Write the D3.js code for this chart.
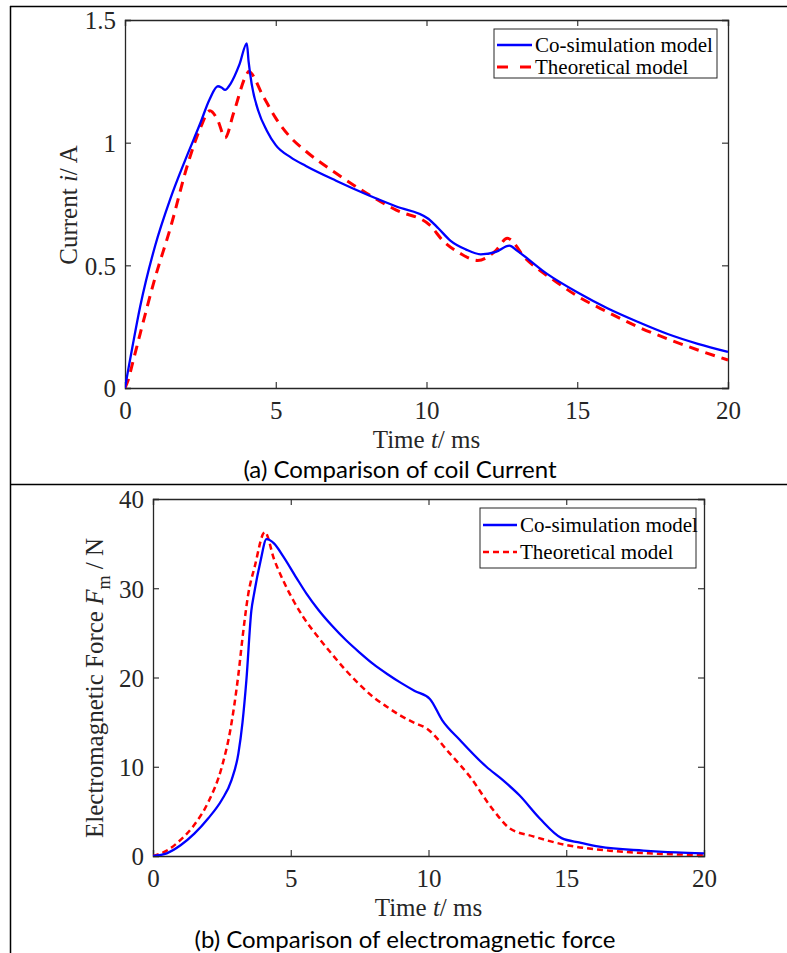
<!DOCTYPE html>
<html><head><meta charset="utf-8">
<script src="https://cdn.jsdelivr.net/npm/d3@7"></script>
<style>body{margin:0;background:#fff}svg{display:block}</style>
</head><body>
<script>
// ---- data ----
const currentTicksX = [0,5,10,15,20];
const currentTicksY = [0,0.5,1,1.5];
const forceTicksY = [0,10,20,30,40];
const seriesNames = ["Co-simulation model","Theoretical model"];

const curCoT = [0,0.1,0.25,0.5,1,1.5,2,2.5,2.8,3.08,3.2,3.32,3.5,3.8,4.04,4.1,4.2,4.42,4.7,5,5.5,6,7,8,9,10.06,10.4,10.8,11.3,11.8,12.3,12.75,13,14,15,16,17,18,19,20];
const curCoV = [0,0.07,0.17,0.33,0.58,0.77,0.93,1.08,1.175,1.23,1.225,1.215,1.24,1.32,1.405,1.33,1.24,1.13,1.05,0.99,0.94,0.905,0.845,0.79,0.74,0.69,0.65,0.6,0.565,0.545,0.555,0.58,0.56,0.465,0.39,0.325,0.27,0.22,0.18,0.147];
const curThT = [0,0.1,0.25,0.5,1,1.5,2.1,2.5,2.82,3.08,3.32,3.6,4.04,4.1,4.58,5,5.5,6,7,8,9,10.1,10.55,11.1,11.7,12.3,12.68,13.27,14.33,15,16,17,18,19,20];
const curThV = [0,0.03,0.1,0.22,0.45,0.65,0.92,1.06,1.13,1.09,1.02,1.12,1.28,1.29,1.19,1.1,1.02,0.965,0.875,0.795,0.725,0.665,0.6,0.55,0.52,0.56,0.61,0.53,0.43,0.375,0.31,0.25,0.2,0.155,0.114];

const frcCoT = [0,0.5,1,1.5,2,2.5,2.85,3.1,3.25,3.39,3.57,3.67,3.9,4.12,4.4,4.72,5.2,5.57,6,6.5,7,7.5,8,8.5,9,9.5,10.05,10.5,11.14,12.1,12.7,13.3,14.04,14.83,15.5,16.2,17.8,19,20];
const frcCoV = [0,0.3,1.2,2.5,4.2,6.3,8.5,11.5,15,19.7,27.5,29.4,33,35.5,35,33.6,31.2,29.4,27.6,25.8,24.2,22.8,21.5,20.4,19.4,18.5,17.6,15.2,13,10,8.5,6.8,4.2,2.0,1.5,1.04,0.6,0.4,0.3];
const frcThT = [0,0.5,1,1.5,2,2.5,2.8,3.09,3.27,3.45,3.69,4.06,4.4,4.72,5.1,5.45,6,6.5,7,7.5,8,8.5,9,9.5,9.93,10.77,11.5,12.35,12.95,13.8,15,16.58,18,20];
const frcThV = [0,0.6,1.8,3.5,6,10,14,20.1,25,29.2,32.4,36.3,33.2,30.9,28.6,26.8,24.5,22.6,20.8,19.2,17.8,16.7,15.7,14.9,14.3,11.5,8.9,5.15,3.1,2.2,1.23,0.6,0.3,0.1];

const W = 787, H = 953;
const axisColor = "#262626";
const serif = "'Liberation Serif','Times New Roman',serif";
const sans = "Lato,'Open Sans',sans-serif";
const fs = 25;

const svg = d3.select("body").append("svg").attr("width",W).attr("height",H);

// outer frame lines
svg.append("line").attr("x1",10).attr("x2",W).attr("y1",6.5).attr("y2",6.5).attr("stroke","#000").attr("stroke-width",1.5);
svg.append("line").attr("x1",10.5).attr("x2",10.5).attr("y1",6).attr("y2",H).attr("stroke","#000").attr("stroke-width",1.5);
svg.append("line").attr("x1",10).attr("x2",W).attr("y1",484.5).attr("y2",484.5).attr("stroke","#000").attr("stroke-width",1.5);

function panel(o){
  const g = svg.append("g");
  const x = d3.scaleLinear().domain([0,20]).range([o.left,o.right]);
  const y = d3.scaleLinear().domain(o.ydom).range([o.bottom,o.top]);
  const tl = 6;
  const fmt = d3.format("~g");
  const xb = g.append("g").attr("transform",`translate(0,${o.bottom})`)
    .call(d3.axisBottom(x).tickValues(currentTicksX).tickSize(-tl).tickPadding(13).tickFormat(fmt));
  const xt = g.append("g").attr("transform",`translate(0,${o.top})`)
    .call(d3.axisTop(x).tickValues(currentTicksX).tickSize(-tl).tickFormat(""));
  const yl = g.append("g").attr("transform",`translate(${o.left},0)`)
    .call(d3.axisLeft(y).tickValues(o.yticks).tickSize(-tl).tickPadding(9).tickFormat(fmt));
  const yr = g.append("g").attr("transform",`translate(${o.right},0)`)
    .call(d3.axisRight(y).tickValues(o.yticks).tickSize(-tl).tickFormat(""));
  [xb,xt,yl,yr].forEach(a=>{
    a.select(".domain").attr("stroke",axisColor).attr("stroke-width",1.3);
    a.selectAll(".tick line").attr("stroke",axisColor).attr("stroke-width",1.1);
    a.selectAll("text").attr("fill",axisColor).style("font-family",serif).style("font-size",fs+"px");
  });
  xb.selectAll("text").attr("dy","0.71em");
  yl.selectAll("text").attr("dy","0.35em");

  const line = d3.line().x(d=>x(d[0])).y(d=>y(d[1])).curve(d3.curveMonotoneX);
  const clipId = "clip"+o.id;
  g.append("clipPath").attr("id",clipId).append("rect")
    .attr("x",o.left).attr("y",o.top-5).attr("width",o.right-o.left+2).attr("height",o.bottom-o.top+5);
  const cg = g.append("g").attr("clip-path",`url(#${clipId})`);
  cg.append("path").datum(d3.zip(o.thT,o.thV)).attr("d",line).attr("fill","none")
    .attr("stroke","#ff0000").attr("stroke-width",o.dashW).attr("stroke-dasharray",o.dash);
  cg.append("path").datum(d3.zip(o.coT,o.coV)).attr("d",line).attr("fill","none")
    .attr("stroke","#0000ff").attr("stroke-width",2.3);

  // axis labels
  const xl = g.append("text").attr("x",(o.left+o.right)/2).attr("y",o.xlabY)
    .attr("text-anchor","middle").attr("fill",axisColor)
    .style("font-family",serif).style("font-size",fs+"px");
  xl.append("tspan").text("Time ");
  xl.append("tspan").attr("font-style","italic").text("t");
  xl.append("tspan").text("/ ms");

  const ylab = g.append("text").attr("transform",`translate(${o.ylabX},${o.ylabY}) rotate(-90)`)
    .attr("text-anchor","middle").attr("fill",axisColor)
    .style("font-family",serif).style("font-size",fs+"px");
  o.ylabBuild(ylab);

  // legend
  const lg = g.append("g");
  lg.append("rect").attr("x",o.leg.x).attr("y",o.leg.y).attr("width",o.leg.w).attr("height",o.leg.h)
    .attr("fill","#fff").attr("stroke",axisColor).attr("stroke-width",1);
  const rows = [{c:"#0000ff",d:null,w:2.3},{c:"#ff0000",d:o.legDash,w:o.dashW}];
  rows.forEach((r,i)=>{
    const yy = o.leg.y + o.leg.r0 + i*o.leg.dy;
    lg.append("line").attr("x1",o.leg.x+o.leg.l0).attr("x2",o.leg.x+o.leg.l1).attr("y1",yy).attr("y2",yy)
      .attr("stroke",r.c).attr("stroke-width",r.w).attr("stroke-dasharray",r.d);
    lg.append("text").attr("x",o.leg.x+o.leg.tx).attr("y",yy).attr("dy","0.35em")
      .attr("fill","#000").style("font-family",serif).style("font-size",o.leg.fs+"px").text(seriesNames[i]);
  });

  // caption
  svg.append("text").attr("x",o.capX).attr("y",o.capY).attr("text-anchor","middle")
    .attr("fill","#000").style("font-family",sans).style("font-size","24px").text(o.caption);
}

panel({id:"a",left:125,right:728,top:20,bottom:388,ydom:[0,1.5],yticks:currentTicksY,
  coT:curCoT,coV:curCoV,thT:curThT,thV:curThV,dash:"10,7",legDash:"11,12",dashW:3,
  xlabY:448,ylabX:77,ylabY:205,
  ylabBuild:t=>{t.append("tspan").text("Current ");t.append("tspan").attr("font-style","italic").text("i");t.append("tspan").text("/ A");},
  leg:{x:494,y:29,w:223,h:49,r0:16,dy:22,l0:3,l1:38,tx:41,fs:21},
  capX:400,capY:478,caption:"(a) Comparison of coil Current"});

panel({id:"b",left:153,right:704,top:499,bottom:856,ydom:[0,40],yticks:forceTicksY,
  coT:frcCoT,coV:frcCoV,thT:frcThT,thV:frcThV,dash:"6,4",legDash:"6,4",dashW:2.5,
  xlabY:916,ylabX:103,ylabY:688,
  ylabBuild:t=>{t.append("tspan").text("Electromagnetic Force ");t.append("tspan").attr("font-style","italic").text("F");
    t.append("tspan").attr("font-size","18px").attr("dy","7").text("m");t.append("tspan").attr("dy","-7").text(" / N");},
  leg:{x:480,y:508,w:216,h:60,r0:17,dy:27,l0:3,l1:37,tx:40,fs:21},
  capX:405,capY:948,caption:"(b) Comparison of electromagnetic force"});
</script>
</body></html>
